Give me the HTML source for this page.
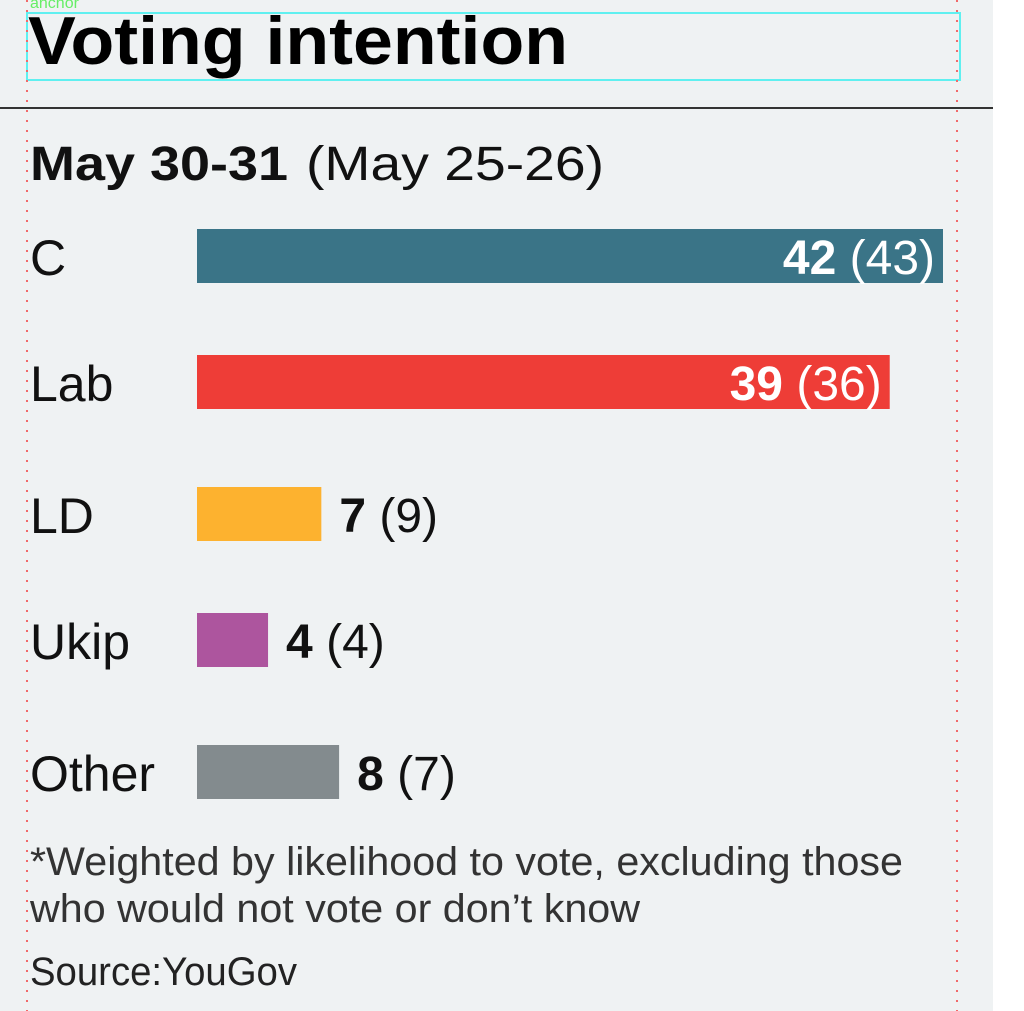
<!DOCTYPE html>
<html><head><meta charset="utf-8"><style>
html,body{margin:0;padding:0;background:#fff;}
svg{display:block;font-family:"Liberation Sans",sans-serif;}
</style></head><body>
<svg id="chart" width="1024" height="1011" viewBox="0 0 1024 1011">
<rect x="0" y="0" width="993" height="1011" fill="#eff2f3"/>
<rect x="27" y="13" width="933" height="67" fill="none" stroke="#5ff0f0" stroke-width="2"/>
<text x="30" y="8" font-size="16" fill="#66ee66">anchor</text>
<line x1="27" y1="0" x2="27" y2="1011" stroke="#f06a6a" stroke-width="2" stroke-dasharray="2,8"/>
<line x1="957" y1="0" x2="957" y2="1011" stroke="#f06a6a" stroke-width="2" stroke-dasharray="2,8"/>
<text x="28" y="64" font-size="68" font-weight="bold" fill="#000" textLength="540" lengthAdjust="spacingAndGlyphs">Voting intention</text>
<line x1="0" y1="108" x2="993" y2="108" stroke="#333" stroke-width="2"/>
<text x="30" y="180" font-size="48" fill="#111"><tspan font-weight="bold" textLength="258" lengthAdjust="spacingAndGlyphs">May 30-31</tspan><tspan x="306" textLength="298" lengthAdjust="spacingAndGlyphs">(May 25-26)</tspan></text>
<g id="bars"></g>
<text x="30" y="875" font-size="40" fill="#333" textLength="873" lengthAdjust="spacingAndGlyphs">*Weighted by likelihood to vote, excluding those</text>
<text x="30" y="922" font-size="40" fill="#333" textLength="610" lengthAdjust="spacingAndGlyphs">who would not vote or don’t know</text>
<text x="30" y="985" font-size="40" fill="#222" textLength="267" lengthAdjust="spacingAndGlyphs">Source:YouGov</text>
</svg>
<script>
const parties = ["C","Lab","LD","Ukip","Other"];
const current = [42,39,7,4,8];
const previous = [43,36,9,4,7];
const colors = ["#3a7487","#ee3d37","#fdb22f","#ad559e","#838b8e"];
const x0 = 197, unit = 746/42;
const rowY = [229,355,487,613,745];
const g = document.getElementById('bars');
const NS = "http://www.w3.org/2000/svg";
function xScale(v){return x0 + v*unit;}
parties.forEach((p,i)=>{
  const y = rowY[i], w = xScale(current[i]) - x0;
  const lab = document.createElementNS(NS,'text');
  lab.setAttribute('x',30); lab.setAttribute('y',y+46);
  lab.setAttribute('font-size','50'); lab.setAttribute('fill','#111');
  lab.textContent = p;
  
  
  g.appendChild(lab);
  const r = document.createElementNS(NS,'rect');
  r.setAttribute('x',x0); r.setAttribute('y',y); r.setAttribute('width',w); r.setAttribute('height',54);
  r.setAttribute('fill',colors[i]);
  
  
  g.appendChild(r);
  const inside = w > 300;
  const t = document.createElementNS(NS,'text');
  t.setAttribute('y',y+45); t.setAttribute('font-size','48');
  const a = document.createElementNS(NS,'tspan'); a.setAttribute('font-weight','bold'); a.textContent = current[i];
  const b = document.createElementNS(NS,'tspan'); b.textContent = ' (' + previous[i] + ')';
  t.appendChild(a); t.appendChild(b);
  if(inside){ t.setAttribute('x', x0+w-8); t.setAttribute('text-anchor','end'); t.setAttribute('fill','#fff'); }
  else { t.setAttribute('x', x0+w+18); t.setAttribute('fill','#111'); }
  
  
  g.appendChild(t);
});
</script>
</body></html>
